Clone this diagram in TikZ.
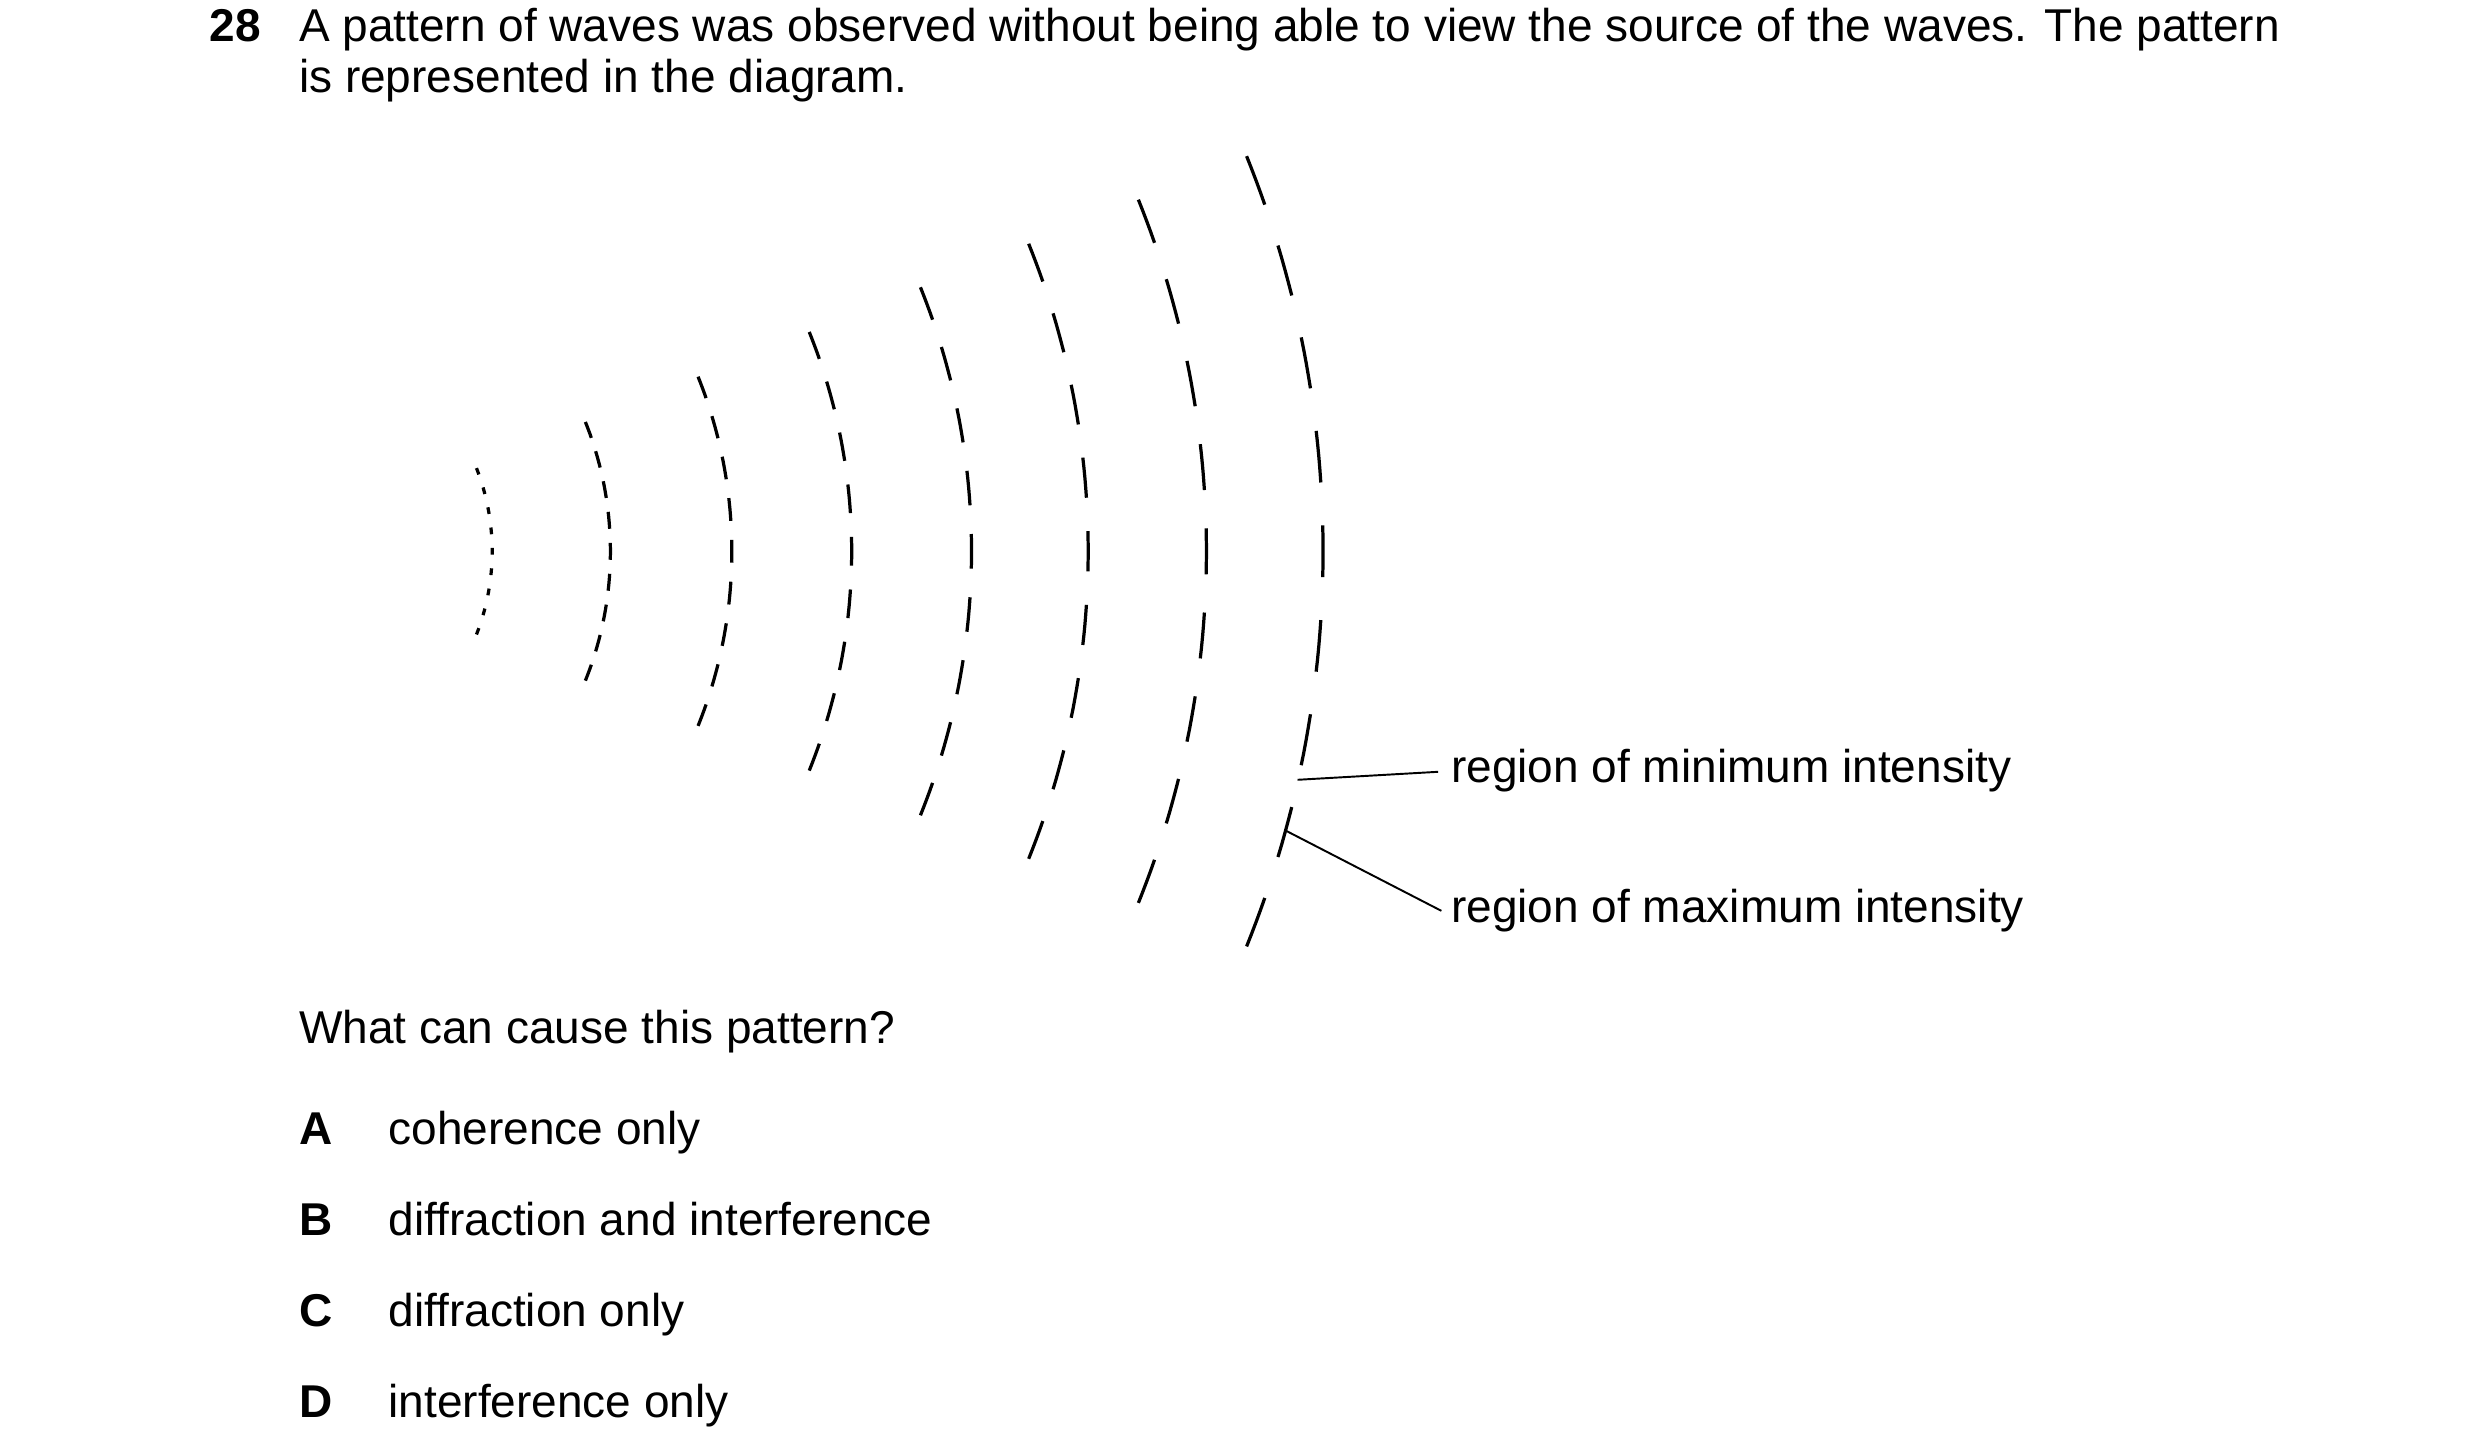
\documentclass[tikz,border=0pt]{standalone}
\usepackage{fontspec}
\setmainfont{Liberation Sans}
\begin{document}
\begin{tikzpicture}[x=0.99pt,y=-0.99pt,
  txt/.style={anchor=base west,inner sep=0pt,font=\fontsize{28.5}{32}\selectfont},
  bt/.style={txt,font=\fontsize{28.5}{32}\selectfont\bfseries},
  wave/.style={line width=2pt},
  ptr/.style={line width=1.2pt}]
\useasboundingbox (0,0) rectangle (1552,909);
\node[bt] (q) at (131,26) {28};
\node[txt] (l1) at (187,26) {A pattern of waves was observed without being able to view the source of the waves. The pattern};
\node[txt] (l2) at (187,58) {is represented in the diagram.};
\foreach \xr in {308,382,458,533,608,681,755,828}{
  \pgfmathsetmacro\r{\xr-165}
  \pgfmathsetmacro\d{ifthenelse(\xr<320,0.85,1.4)}
  \foreach \j in {0,...,8}{
    \pgfmathsetmacro\a{-20.5+\j*5.125}
    \draw[wave] plot[domain=\a-\d:\a+\d,samples=5] ({165+\r*cos(\x)},{345+\r*sin(\x)});
  }
}
\coordinate (mn) at (812,488);
\coordinate (mx) at (805,520);
\node[txt] (minl) at (908,490) {region of minimum intensity};
\node[txt] (maxl) at (908,577) {region of maximum intensity};
\draw[ptr] (mn) -- (900,483) coordinate (mne);
\draw[ptr] (mx) -- (902,570) coordinate (mxe);
\node[txt] (qq) at (187,653) {What can cause this pattern?};
\node[bt] (A) at (187,716) {A};
\node[txt] (a) at (243,716) {coherence only};
\node[bt] (B) at (187,773) {B};
\node[txt] (b) at (243,773) {diffraction and interference};
\node[bt] (C) at (187,830) {C};
\node[txt] (c) at (243,830) {diffraction only};
\node[bt] (D) at (187,887) {D};
\node[txt] (d) at (243,887) {interference only};
\end{tikzpicture}
\end{document}
